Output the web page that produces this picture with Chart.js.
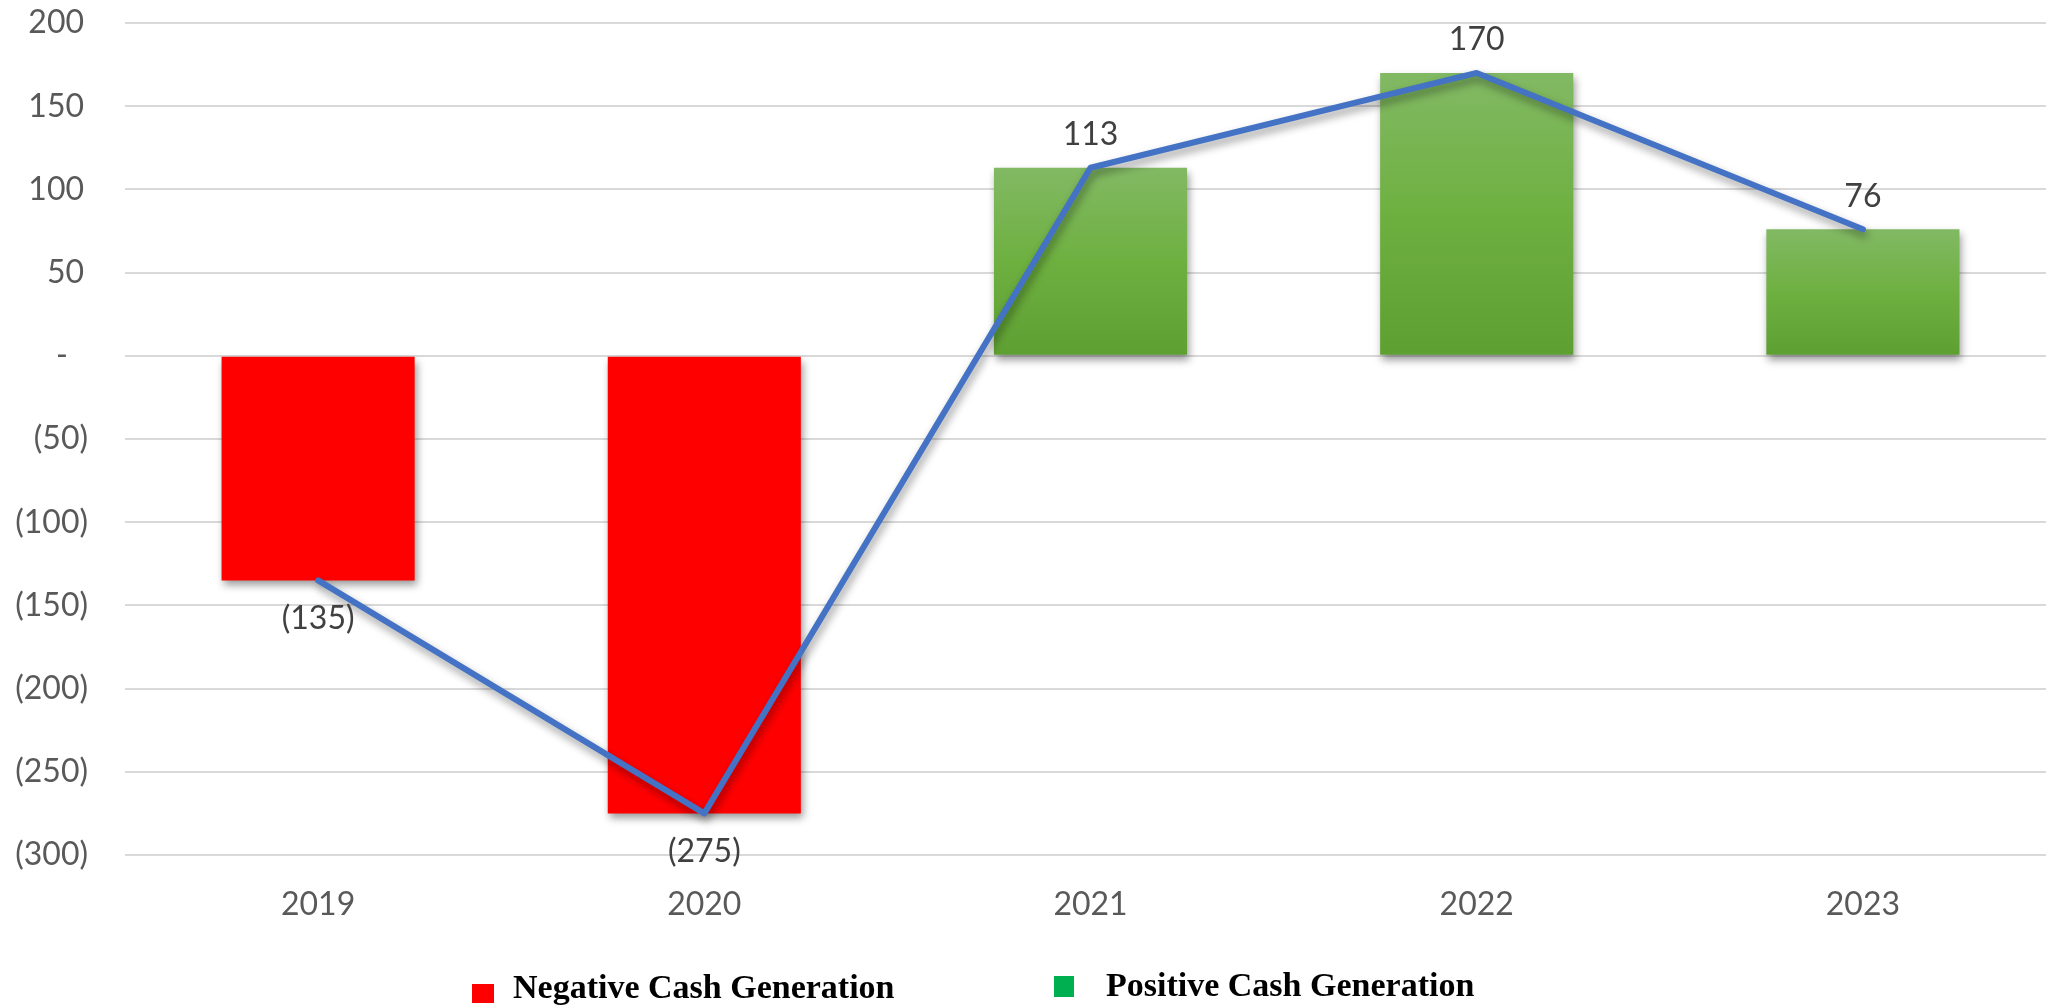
<!DOCTYPE html>
<html>
<head>
<meta charset="utf-8">
<script src="https://cdn.jsdelivr.net/npm/chart.js@4.4.1/dist/chart.umd.min.js"></script>
<style>
  html, body { margin: 0; padding: 0; background: #fff; }
  body { width: 2046px; height: 1008px; overflow: hidden; position: relative; }
  #wrap { position: absolute; left: 0; top: 0; width: 2056px; height: 1008px; }
  .leg { position: absolute; font: bold 34px "Liberation Serif", "Times New Roman", serif; color: #000; line-height: 34px; white-space: nowrap; }
  .sw { position: absolute; }
</style>
</head>
<body>
<div id="wrap"><canvas id="cash-chart" width="2056" height="1008"></canvas></div>
<div class="sw" id="sw0" style="left:472px;top:984px;width:22px;height:19px;"></div>
<div class="leg" id="lg0" style="left:513px;top:970px;"></div>
<div class="sw" id="sw1" style="left:1054px;top:976px;width:20px;height:21px;"></div>
<div class="leg" id="lg1" style="left:1106px;top:968px;"></div>
<script>
/* data */
const years = ['2019', '2020', '2021', '2022', '2023'];
const cashGeneration = [-135, -275, 113, 170, 76];
const seriesNames = ['Negative Cash Generation', 'Positive Cash Generation'];
const legendColors = ['#FF0000', '#00B050'];
const yMin = -300;
const yMax = 200;
const yStep = 50;

// split into the two bar series
const negativeBars = cashGeneration.map(v => v < 0 ? v : null);
const positiveBars = cashGeneration.map(v => v >= 0 ? v : null);

// accounting style: (50), -, 50
function fmt(v) {
    if (v === 0) return '-';
    return v < 0 ? '(' + Math.abs(v) + ')' : String(v);
}

// html legend
seriesNames.forEach(function(name, i) {
    document.getElementById('lg' + i).textContent = name;
    document.getElementById('sw' + i).style.background = legendColors[i];
});

function greenFill(c) {
    const chart = c.chart;
    if (!chart.chartArea || c.raw == null) return '#70AD47';
    const ys = chart.scales.y;
    const top = ys.getPixelForValue(c.raw);
    const base = ys.getPixelForValue(0);
    const g = chart.ctx.createLinearGradient(0, top, 0, base);
    g.addColorStop(0, '#82B964');
    g.addColorStop(0.5, '#6EB040');
    g.addColorStop(1, '#5E9F32');
    return g;
}

// soft drop shadow like excel
const shadowPlugin = {
    id: 'shadow',
    beforeDatasetDraw(chart) {
        const ctx = chart.ctx;
        ctx.save();
        ctx.shadowColor = 'rgba(0,0,0,0.4)';
        ctx.shadowBlur = 8;
        ctx.shadowOffsetX = 2;
        ctx.shadowOffsetY = 5;
    },
    afterDatasetDraw(chart) {
        chart.ctx.restore();
    }
};

// value labels on the line points
const labelPlugin = {
    id: 'pointLabels',
    afterDatasetsDraw(chart) {
        const ctx = chart.ctx;
        const meta = chart.getDatasetMeta(0);
        ctx.save();
        ctx.font = '32px Lato';
        ctx.fillStyle = '#404040';
        ctx.textAlign = 'center';
        ctx.textBaseline = 'middle';
        meta.data.forEach(function(pt, i) {
            const v = cashGeneration[i];
            const dy = v < 0 ? 38 : -33;
            ctx.fillText(fmt(v), pt.x, pt.y + dy);
        });
        ctx.restore();
    }
};

const ctx_cash = document.getElementById('cash-chart').getContext('2d');
const cashChart = new Chart(ctx_cash, {
    data: {
        labels: years,
        datasets: [{
            type: 'line',
            label: 'Cash Generation',
            data: cashGeneration,
            borderColor: '#4472C4',
            borderWidth: 6,
            pointRadius: 0,
            tension: 0,
            borderCapStyle: 'round',
            borderJoinStyle: 'round',
            order: 0
        }, {
            type: 'bar',
            label: seriesNames[0],
            data: negativeBars,
            backgroundColor: '#FF0000',
            grouped: false,
            barPercentage: 0.5,
            categoryPercentage: 1,
            order: 1
        }, {
            type: 'bar',
            label: seriesNames[1],
            data: positiveBars,
            backgroundColor: greenFill,
            grouped: false,
            barPercentage: 0.5,
            categoryPercentage: 1,
            order: 1
        }]
    },
    options: {
        responsive: false,
        animation: false,
        layout: { padding: { top: 23, right: 0, bottom: 0, left: 0 } },
        plugins: {
            legend: { display: false },
            tooltip: { enabled: false }
        },
        scales: {
            x: {
                grid: { display: false, drawTicks: false },
                border: { display: false },
                ticks: { color: '#595959', font: { family: 'Lato', size: 32 }, padding: 30 },
                afterFit: s => { s.height = 153; }
            },
            y: {
                min: yMin,
                max: yMax,
                grid: { color: '#D9D9D9', lineWidth: 2, drawTicks: false },
                border: { display: false },
                ticks: {
                    stepSize: yStep,
                    color: '#595959',
                    font: { family: 'Lato', size: 32 },
                    padding: 37,
                    callback: v => v === 0 ? '-\u2002\u2009' : (v > 0 ? v + '\u2009' : fmt(v))
                },
                afterFit: s => { s.width = 125; s.paddingTop = 0; s.paddingBottom = 0; }
            }
        }
    },
    plugins: [shadowPlugin, labelPlugin]
});
</script>
</body>
</html>
